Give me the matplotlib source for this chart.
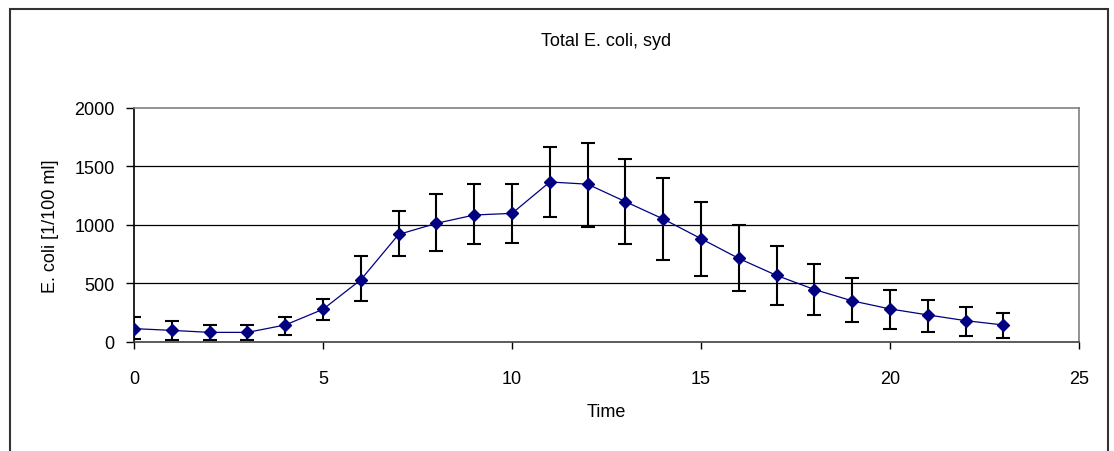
import matplotlib.pyplot as plt
from matplotlib.patches import Rectangle

plt.rcParams['font.family'] = ['Liberation Sans', 'DejaVu Sans']

# hourly means with lower / upper error bar ends
time = [0, 1, 2, 3, 4, 5, 6, 7, 8, 9, 10, 11, 12, 13, 14, 15, 16, 17, 18, 19, 20, 21, 22, 23]
ecoli = [114, 99, 82, 82, 145, 279, 531, 918, 1013, 1084, 1098, 1366, 1347, 1198,
         1050, 882, 713, 568, 448, 351, 282, 231, 182, 145]
err_low = [28, 14, 14, 14, 62, 185, 348, 733, 779, 833, 847, 1067, 984, 833,
           696, 565, 431, 313, 231, 168, 114, 82, 48, 31]
err_high = [216, 182, 148, 148, 216, 365, 736, 1115, 1264, 1347, 1347, 1663, 1700, 1563,
            1398, 1198, 996, 816, 664, 548, 448, 362, 296, 251]

lower = [m - lo for m, lo in zip(ecoli, err_low)]
upper = [hi - m for m, hi in zip(ecoli, err_high)]

fig = plt.figure(figsize=(11.14, 4.52), dpi=100)
ax = fig.add_axes([0.1203, 0.2412, 0.8483, 0.5183])

# outer chart frame (bottom edge is cut off in the original)
fig.patches.append(Rectangle((0.009, -0.1), 0.986, 1.078, transform=fig.transFigure,
                             fill=False, edgecolor='#333333', linewidth=1.5))

for y in [500, 1000, 1500]:
    ax.axhline(y, color='black', linewidth=0.9, zorder=0)

ax.errorbar(time, ecoli, yerr=[lower, upper], fmt='none', ecolor='black',
            elinewidth=1.5, capsize=5, capthick=1.5, zorder=2)
ax.plot(time, ecoli, color='#000080', linewidth=0.9, marker='D', markersize=6,
        markerfacecolor='#000080', markeredgecolor='#000080', zorder=3)

ax.set_xlim(0, 25)
ax.set_ylim(0, 2000)
ax.set_xticks([0, 5, 10, 15, 20, 25])
ax.set_yticks([0, 500, 1000, 1500, 2000])
ax.tick_params(axis='x', direction='out', length=5, pad=15, labelsize=13, width=1)
ax.tick_params(axis='y', direction='out', length=6, pad=8, labelsize=13, width=1)

ax.spines['left'].set_color('black')
ax.spines['bottom'].set_color('#404040')
ax.spines['top'].set_color('#808080')
ax.spines['right'].set_color('#808080')
for s in ax.spines.values():
    s.set_linewidth(1.2)

ax.set_title('Total E. coli, syd', fontsize=13, pad=45)
ax.set_xlabel('Time', fontsize=13, labelpad=12)
ax.set_ylabel('E. coli [1/100 ml]', fontsize=13, labelpad=11)

fig.savefig('out.png', dpi=100)
